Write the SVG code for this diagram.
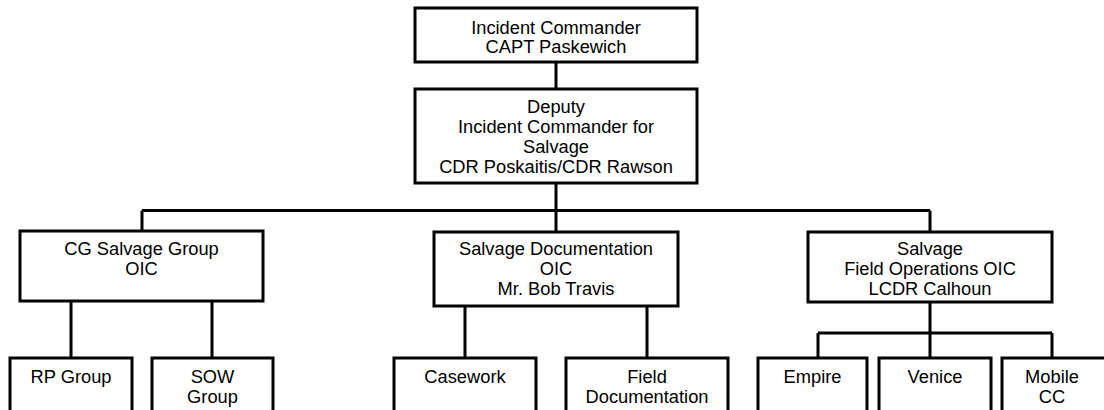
<svg xmlns="http://www.w3.org/2000/svg" width="1104" height="410" viewBox="0 0 1104 410">
<style>
.box{fill:#fff;stroke:#000;stroke-width:3}
.ln{fill:none;stroke:#000;stroke-width:3}
text{font-family:"Liberation Sans",Arial,sans-serif;font-size:18.3px;fill:#000;text-anchor:middle}
</style>
<rect width="1104" height="410" fill="#fff"/>
<g id="connectors">
<path class="ln" d="M556 62V89M556 183V210.5M142 210.5H930M142 210.5V231M556 210.5V232M930 210.5V232"/>
<path class="ln" d="M71 301V358M212 301V358"/>
<path class="ln" d="M465 306V358M647 306V358"/>
<path class="ln" d="M930 302V358M818 333H1052M818 333V358M1052 333V358"/>
</g>
<g id="ic"><rect class="box" x="415" y="8" width="282" height="54"/>
<text x="556" y="34">Incident Commander</text><text x="556" y="53">CAPT Paskewich</text></g>
<g id="dic"><rect class="box" x="415" y="89" width="282" height="94"/>
<text x="556" y="113">Deputy</text><text x="556" y="133">Incident Commander for</text><text x="556" y="153">Salvage</text><text x="556" y="173">CDR Poskaitis/CDR Rawson</text></g>
<g id="cgsg"><rect class="box" x="20" y="231" width="243" height="70"/>
<text x="141.5" y="255">CG Salvage Group</text><text x="141.5" y="275">OIC</text></g>
<g id="sdoc"><rect class="box" x="434" y="232" width="244" height="74"/>
<text x="556" y="255">Salvage Documentation</text><text x="556" y="275">OIC</text><text x="556" y="295">Mr. Bob Travis</text></g>
<g id="sfo"><rect class="box" x="808" y="232" width="244" height="70"/>
<text x="930" y="255">Salvage</text><text x="930" y="275">Field Operations OIC</text><text x="930" y="295">LCDR Calhoun</text></g>
<g id="rp"><rect class="box" x="10" y="358" width="122" height="70"/>
<text x="71" y="383">RP Group</text></g>
<g id="sow"><rect class="box" x="152" y="358" width="121" height="70"/>
<text x="212.5" y="383">SOW</text><text x="212.5" y="403">Group</text></g>
<g id="casework"><rect class="box" x="394" y="358" width="142" height="70"/>
<text x="465" y="383">Casework</text></g>
<g id="fielddoc"><rect class="box" x="566" y="358" width="162" height="70"/>
<text x="647" y="383">Field</text><text x="647" y="403">Documentation</text></g>
<g id="empire"><rect class="box" x="758" y="358" width="109" height="70"/>
<text x="812.5" y="383">Empire</text></g>
<g id="venice"><rect class="box" x="879" y="358" width="112" height="70"/>
<text x="935" y="383">Venice</text></g>
<g id="mobile"><rect class="box" x="1002" y="358" width="110" height="70"/>
<text x="1052" y="383">Mobile</text><text x="1052" y="403">CC</text></g>
</svg>
